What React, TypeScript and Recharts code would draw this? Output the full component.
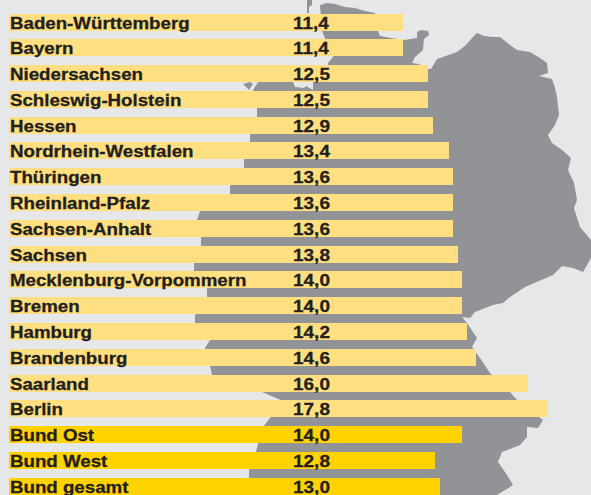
import { BarChart, Bar, XAxis, YAxis, Cell, LabelList } from "recharts"

const regions = [
  "Baden-Württemberg", "Bayern", "Niedersachsen", "Schleswig-Holstein", "Hessen",
  "Nordrhein-Westfalen", "Thüringen", "Rheinland-Pfalz", "Sachsen-Anhalt", "Sachsen",
  "Mecklenburg-Vorpommern", "Bremen", "Hamburg", "Brandenburg", "Saarland", "Berlin",
  "Bund Ost", "Bund West", "Bund gesamt"
]
const printedValues = [
  "11,4", "11,4", "12,5", "12,5", "12,9", "13,4", "13,6", "13,6", "13,6", "13,8",
  "14,0", "14,0", "14,2", "14,6", "16,0", "17,8", "14,0", "12,8", "13,0"
]
// bar lengths as drawn; Saarland is drawn longer than its printed 16,0
const barValues = [
  11.4, 11.4, 12.5, 12.5, 12.72, 13.43, 13.6, 13.6, 13.6, 13.82,
  14.0, 14.0, 14.22, 14.6, 16.9, 17.8, 14.0, 12.8, 13.03
]
const isTotal = [
  false, false, false, false, false, false, false, false, false, false,
  false, false, false, false, false, false, true, true, true
]

const axisStart = -6
const axisEnd = 19.7
const chartData = regions.map((region, i) => ({
  region,
  printed: printedValues[i],
  range: [axisStart, barValues[i]]
}))

// backdrop silhouette of Germany
const mapOutline =
  "M307 0 L312 0 L312 5 L309 7 L309 13 L307 13 Z " +
  "M320 5 L327 3 L335 4 L345 7 L355 8 L365 11 L375 13 L378 31 L380 36 L397 39 L405 40 L410 39 L417 38 L417 32 L421 30 L428 31 L429 35 L424 39 L423 50 L415 57 L412 63 L419 64 L421 66 L428 69 L431 69 L437 59 L457 52 L466 45 L473 37 L477 33 L484 36 L493 37 L500 37 L510 45 L517 50 L530 52 L540 58 L547 63 L548 73 L539 76 L552 79 L555 88 L557 97 L559 115 L555 125 L548 135 L552 143 L562 150 L571 158 L568 170 L574 183 L577 200 L574 208 L580 227 L591 240 " +
  "L591 258 L583 272 L573 268 L562 266 L553 275 L525 287 L510 297 L503 303 L493 305 L475 312 L470 318 L462 317 L467 323 L477 338 L472 347 L480 358 L490 373 L510 392 L517 400 L543 420 L538 428 L527 427 L527 437 L520 445 L502 452 L498 462 L507 475 L513 485 L497 495 L249 495 " +
  "L249 470 L256 452 L258 444 L263 427 L270 418 L283 401 L262 392 L212 375 L210 366 L205 348 L210 340 L195 323 L195 315 L207 298 L207 289 L194 272 L194 263 L201 246 L201 237 L197 220 L200 211 L230 194 L230 186 L244 169 L244 160 L250 143 L250 134 L257 117 L257 108 L253 90 L258 82 L293 82 L295 87 L304 88 L306 86 L313 90 L313 82 L328 65 L328 63 L333 57 L322 31 L320 5 Z " +
  "M243 84 L250 82 L253 84 L249 90 L245 86 Z"

const labelStyle = {
  fontFamily: "'Liberation Sans', sans-serif",
  fontWeight: 700,
  fontSize: 17,
  fill: "#231f20",
  stroke: "#231f20",
  strokeWidth: 0.3
}

// the printed face is wider than Liberation Sans, so the labels get stretched a bit
function NameLabel(props: any) {
  const { x, y, height, value } = props
  return (
    <text transform={`translate(${x + 1} ${Math.round(y + height / 2 + 6.5)}) scale(1.1 1)`} style={labelStyle}>
      {value}
    </text>
  )
}

function PrintedLabel(props: any) {
  const { x, y, height, value } = props
  return (
    <text transform={`translate(${x + 284} ${Math.round(y + height / 2 + 6.5)}) scale(1.118 1)`} style={labelStyle}>
      {value}
    </text>
  )
}

// snap to whole pixels, the reference bars have crisp edges
function CrispBar(props: any) {
  const { x, y, width, height, fill } = props
  return <rect x={Math.round(x)} y={Math.round(y)} width={Math.round(width)} height={Math.round(height)} fill={fill} />
}

export default function App() {
  return (
    <div style={{ position: "absolute", left: 0, top: 0, width: 591, height: 495, overflow: "hidden", background: "#e6e7e9" }}>
      <svg width={591} height={495} style={{ position: "absolute", left: 0, top: 0 }}>
        <path d={mapOutline} fill="#929397" />
      </svg>
      <div style={{ position: "absolute", left: 0, top: 0 }}>
        <BarChart
          width={591}
          height={500}
          data={chartData}
          layout="vertical"
          margin={{ top: 9.6, right: 0, bottom: 0.6, left: 9 }}
        >
          <XAxis type="number" hide domain={[axisStart, axisEnd]} allowDataOverflow />
          <YAxis type="category" dataKey="region" hide />
          <Bar dataKey="range" barSize={17} isAnimationActive={false} shape={CrispBar}>
            {chartData.map((d, i) => (
              <Cell key={d.region} fill={isTotal[i] ? "#ffd200" : "#ffdf7f"} />
            ))}
            <LabelList dataKey="region" content={NameLabel} />
            <LabelList dataKey="printed" content={PrintedLabel} />
          </Bar>
        </BarChart>
      </div>
    </div>
  )
}
